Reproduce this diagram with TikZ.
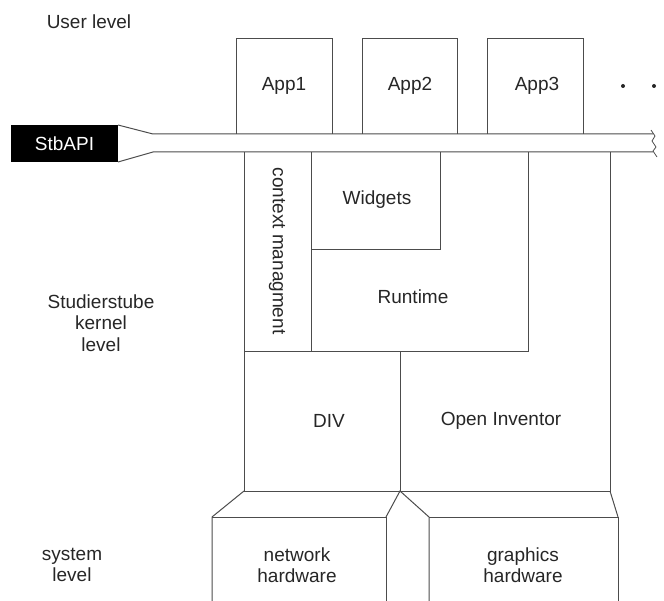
\documentclass[tikz,border=0pt]{standalone}
\usepackage{fontspec}
\setmainfont{Liberation Sans}
\usetikzlibrary{calc}

\tikzset{
	layer/.style = {draw = black!70, line width = 1pt},
	label/.style = {font = \fontsize{19}{21.5}\selectfont, text = black!85, align = center},
}

\begin{document}
\begin{tikzpicture}[x = 1pt, y = -1pt]
		\useasboundingbox (0,0) rectangle (664,601);
		\def\bartop{134}
		\def\barbot{152}
		\def\kbot{491}
		\def\hwtop{517}
		
		\coordinate (kernel tl) at (244,\barbot);
		\coordinate (kernel tr) at (610,\barbot);
		\coordinate (kernel bl) at (244,\kbot);
		\coordinate (kernel br) at (610,\kbot);
		\coordinate (kernel mid) at (400,\kbot);
		
		% applications
		\draw [layer] (236,\bartop) |- (332,39) -- (332,\bartop);
		\draw [layer] (362,\bartop) |- (457,39) -- (457,\bartop);
		\draw [layer] (487,\bartop) |- (583,39) -- (583,\bartop);
		\node [label] (app1) at (284,86) {App1};
		\node [label] (app2) at (410,86) {App2};
		\node [label] (app3) at (537,86) {App3};
		\fill [black!85] (623,86) circle [radius = 2];
		\fill [black!85] (654,86) circle [radius = 2];
		
		% API bar
		\fill [black] (11,125) rectangle (118,162);
		\node [label, text = white] (api) at (64.5,143.5) {StbAPI};
		\draw [layer] (118,125) -- (153,\bartop) -- (653,\bartop);
		\draw [layer] (118,162) -- (153,\barbot) -- (653,\barbot);
		\draw [layer, line width = 0.8pt] (651,130) -- (655,136) -- (652,141) -- (656,147) -- (653,151) -- (657,157);
		
		% kernel
		\draw [layer] (kernel tl) -- (kernel bl) -- (kernel br) -- (kernel tr);
		\draw [layer] (311,\barbot) -- (311,352);
		\draw [layer] (311,250) -| (440,\barbot);
		\draw [layer] (528,\barbot) |- (244,352);
		\draw [layer] (400,352) -- (kernel mid);
		\node [label, rotate = -90] (context) at (277,251) {context managment};
		\node [label] (widgets) at (377,200) {Widgets};
		\node [label] (runtime) at (413,297) {Runtime};
		\node [label] (div) at (329,421) {DIV};
		\node [label] (inventor) at (501,421) {Open Inventor};
		
		% hardware
		\draw [layer] (kernel bl) -- (212,\hwtop) -- (212,601);
		\draw [layer] (212,\hwtop) -- (386,\hwtop) -- (386,601);
		\draw [layer] (386,\hwtop) -- (kernel mid) -- (429,\hwtop) -- (429,601);
		\draw [layer] (429,\hwtop) -- (618,\hwtop) -- (618,601);
		\draw [layer] (618,\hwtop) -- (kernel br);
		\node [label] (network) at (297,565) {network\\hardware};
		\node [label] (graphics) at (523,565) {graphics\\hardware};
		
		% levels
		\node [label] (user) at (89,22) {User level};
		\node [label] (kernel level) at (101,323) {Studierstube\\kernel\\level};
		\node [label] (system) at (72,565) {system\\level};
	\end{tikzpicture}
\end{document}
